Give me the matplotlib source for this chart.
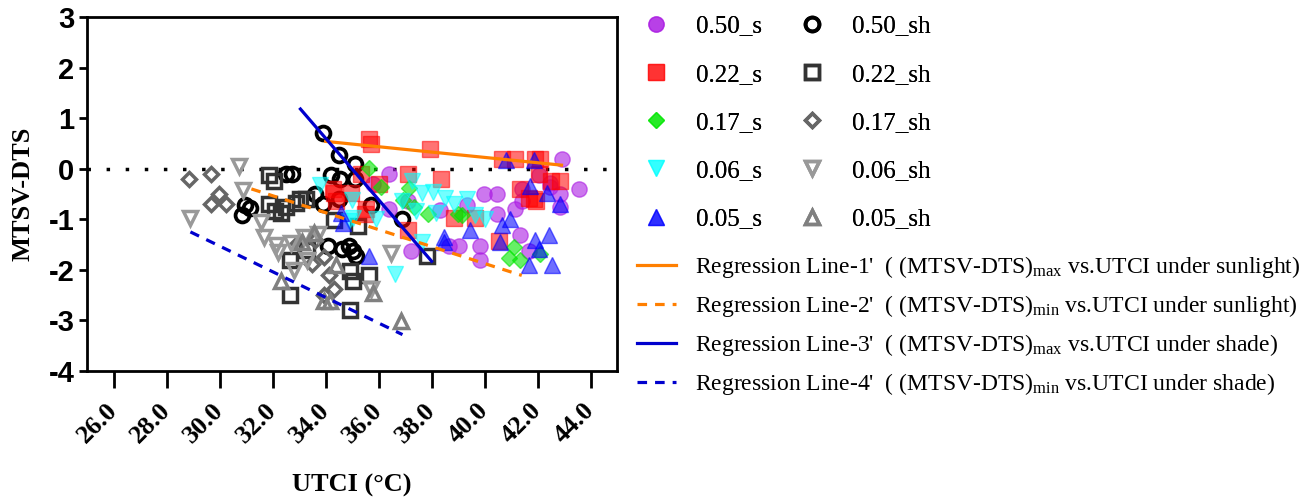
import matplotlib.pyplot as plt

plt.rcParams['font.family'] = ['Liberation Serif']

# MTSV-DTS vs UTCI, sunlight groups
x_050_s = [42.9, 36.4, 43.56, 39.96, 40.45, 42.84, 41.4, 42.46, 42.05, 35.8, 37.12, 36.4, 38.3,
           39.32, 41.14, 40.45, 41.4, 42.84, 41.33, 37.23, 38.64, 39.05, 39.81, 39.81, 41.67, 42.46]
y_050_s = [0.19, -0.10, -0.40, -0.51, -0.51, -0.50, -0.41, -0.28, -0.12, -0.30, -0.63, -0.79, -0.81,
           -0.71, -0.79, -0.90, -0.63, -0.75, -1.32, -1.62, -1.52, -1.52, -1.52, -1.81, -1.62, -0.37]
x_022_s = [35.64, 35.72, 37.95, 40.64, 41.14, 41.9, 42.08, 35.34, 37.12, 38.37, 42.05, 42.5, 42.84, 41.33,
           41.67, 41.86, 41.95, 36.02, 34.28, 34.32, 34.96, 34.39, 35.53, 35.5, 38.83, 39.62, 37.12, 40.53]
y_022_s = [0.59, 0.49, 0.39, 0.20, 0.20, 0.20, 0.20, -0.10, -0.10, -0.20, -0.10, -0.24, -0.24, -0.40,
           -0.57, -0.59, -0.63, -0.30, -0.40, -0.49, -0.49, -0.63, -0.79, -0.89, -0.98, -0.98, -1.22, -1.42]
x_017_s = [35.64, 36.1, 37.16, 36.93, 37.35, 37.88, 39.0, 39.15, 41.1, 40.9, 41.33, 42.1]
y_017_s = [0.01, -0.37, -0.38, -0.62, -0.75, -0.90, -0.89, -0.92, -1.55, -1.76, -1.81, -1.68]
x_006_s = [37.25, 33.8, 35.0, 35.9, 37.62, 38.07, 38.52, 39.32, 37.4, 38.15, 39.64, 40.0, 37.62,
           36.6, 34.9, 36.9, 38.86, 35.04]
y_006_s = [-0.25, -0.33, -0.62, -1.0, -0.48, -0.47, -0.57, -0.59, -0.84, -0.88, -0.92, -1.0, -1.45,
           -2.09, -1.03, -0.63, -0.70, -0.98]
x_005_s = [40.8, 41.86, 41.7, 42.35, 42.84, 34.58, 34.65, 35.64, 38.45, 39.43, 40.64, 40.95, 40.57,
           41.9, 42.42, 42.05, 41.67, 42.54, 38.45]
y_005_s = [0.18, 0.18, -0.35, -0.48, -0.70, -0.87, -1.08, -1.72, -1.35, -1.22, -1.12, -1.0, -1.45,
           -1.40, -1.32, -1.58, -1.91, -1.91, -1.45]

# shade groups
x_050_sh = [33.9, 34.5, 35.1, 34.2, 34.55, 35.1, 32.5, 32.75, 33.6, 33.9, 34.5, 35.7, 30.95, 31.15,
            30.85, 36.9, 34.1, 34.6, 34.9, 35.05, 35.15]
y_050_sh = [0.70, 0.28, 0.10, -0.12, -0.20, -0.20, -0.10, -0.10, -0.50, -0.69, -0.60, -0.71, -0.71,
            -0.78, -0.91, -0.99, -1.52, -1.58, -1.52, -1.62, -1.72]
x_022_sh = [31.86, 32.05, 31.86, 32.1, 32.3, 32.5, 32.88, 33.05, 33.26, 34.3, 35.23, 32.65, 33.3,
            32.65, 34.92, 35.04, 35.64, 34.92, 37.82]
y_022_sh = [-0.12, -0.24, -0.70, -0.83, -0.87, -0.76, -0.67, -0.59, -0.59, -1.02, -1.13, -1.80, -1.60,
            -2.50, -2.02, -2.22, -2.10, -2.80, -1.72]
x_017_sh = [28.83, 29.66, 29.96, 29.66, 30.23, 32.95, 33.5, 34.13, 34.32, 33.94, 33.6, 33.94]
y_017_sh = [-0.20, -0.10, -0.50, -0.69, -0.69, -1.46, -1.88, -2.11, -2.38, -2.50, -1.40, -1.75]
x_006_sh = [30.72, 30.9, 28.9, 31.55, 31.67, 32.12, 32.2, 32.69, 33.18, 33.7, 32.8, 36.45, 35.72, 33.3]
y_006_sh = [0.05, -0.43, -0.97, -1.06, -1.36, -1.50, -1.65, -1.46, -1.36, -1.30, -2.0, -1.66, -2.37, -1.8]
x_005_sh = [33.56, 32.3, 33.94, 34.15, 35.8, 36.85, 33.1, 34.4]
y_005_sh = [-1.28, -2.22, -2.62, -2.62, -2.46, -3.02, -1.45, -1.9]

# regression lines (end points)
reg_x = [[34.0, 42.9], [31.2, 41.4], [33.05, 38.0], [28.9, 36.9]]
reg_y = [[0.54, 0.07], [-0.40, -2.11], [1.18, -1.83], [-1.25, -3.28]]
reg_labels = ["Regression Line-1'  ( (MTSV-DTS)$\\mathregular{_{max}}$ vs.UTCI under sunlight)",
              "Regression Line-2'  ( (MTSV-DTS)$\\mathregular{_{min}}$ vs.UTCI under sunlight)",
              "Regression Line-3'  ( (MTSV-DTS)$\\mathregular{_{max}}$ vs.UTCI under shade)",
              "Regression Line-4'  ( (MTSV-DTS)$\\mathregular{_{min}}$ vs.UTCI under shade)"]

fig = plt.figure(figsize=(13.09, 4.99), dpi=100)
ax = fig.add_axes([0.0665, 0.2565, 0.405, 0.7095])

sun = [('0.50_s', x_050_s, y_050_s, 'o', 11, (0.67, 0.11, 0.89), 0.6),
       ('0.22_s', x_022_s, y_022_s, 's', 11.5, (1, 0, 0), 0.55),
       ('0.17_s', x_017_s, y_017_s, 'D', 8, (0, 0.9, 0), 0.6),
       ('0.06_s', x_006_s, y_006_s, 'v', 11.5, (0, 1, 1), 0.55),
       ('0.05_s', x_005_s, y_005_s, '^', 11.5, (0, 0, 1), 0.57)]
shade = [('0.50_sh', x_050_sh, y_050_sh, 'o', 10, '#000000', 2.7),
         ('0.22_sh', x_022_sh, y_022_sh, 's', 10, '#333333', 2.5),
         ('0.17_sh', x_017_sh, y_017_sh, 'D', 7.5, '#666666', 2.5),
         ('0.06_sh', x_006_sh, y_006_sh, 'v', 10.5, '#999999', 2.5),
         ('0.05_sh', x_005_sh, y_005_sh, '^', 10.5, '#808080', 2.5)]

sun_h = []
for lab, xs, ys, m, ms, c, a in sun:
    h, = ax.plot(xs, ys, ls='none', marker=m, ms=ms, mfc=(*c, a), mec=(*c, a), mew=1,
                 label=lab, zorder=3)
    sun_h.append(h)
shade_h = []
for lab, xs, ys, m, ms, c, lw in shade:
    h, = ax.plot(xs, ys, ls='none', marker=m, ms=ms, mfc='none', mec=c, mew=lw,
                 label=lab, zorder=2)
    shade_h.append(h)

reg_styles = [('#FF7F00', '-'), ('#FF7F00', (0, (3, 2.5))), ('#0000CD', '-'), ('#0000CD', (0, (3, 2.5)))]
reg_h = []
for xs, ys, (c, ls), lab in zip(reg_x, reg_y, reg_styles, reg_labels):
    h, = ax.plot(xs, ys, color=c, ls=ls, lw=2.3, label=lab, zorder=4)
    reg_h.append(h)

ax.axhline(0, color='black', ls=(0, (1, 4.5)), lw=2.5, zorder=1)

ax.set_xlim(25, 45)
ax.set_ylim(-4, 3)
ax.set_yticks(range(-4, 4))
ax.set_yticklabels([str(v) for v in range(-4, 4)], family='Liberation Sans', weight='bold', fontsize=21)
ticks_x = [26, 28, 30, 32, 34, 36, 38, 40, 42, 44]
ax.set_xticks(ticks_x)
ax.set_xticklabels([f'{v:.1f}' for v in ticks_x], rotation=45, ha='right', va='center',
                   rotation_mode='anchor', weight='bold', fontsize=19)
for s in ax.spines.values():
    s.set_linewidth(2)
ax.tick_params(axis='y', length=6, width=2, pad=3)
ax.tick_params(axis='x', length=12, width=2, pad=14)
ax.set_xlabel('UTCI (°C)', weight='bold', fontsize=19, labelpad=19)
ax.set_ylabel('MTSV-DTS', weight='bold', fontsize=19, labelpad=10)

leg1 = fig.legend(handles=sun_h + shade_h, ncol=2, loc='upper left', bbox_to_anchor=(0.4914, 0.970),
                  frameon=False, fontsize=18, labelspacing=1.03, handlelength=1.0,
                  handletextpad=1.1, columnspacing=1.5, borderpad=0, borderaxespad=0)
fig.add_artist(leg1)
fig.legend(handles=reg_h, loc='upper left', bbox_to_anchor=(0.4866, 0.491), frameon=False,
           fontsize=17, labelspacing=0.55, handlelength=1.65, handletextpad=0.8,
           borderpad=0, borderaxespad=0)

fig.savefig('out.png', dpi=100)
